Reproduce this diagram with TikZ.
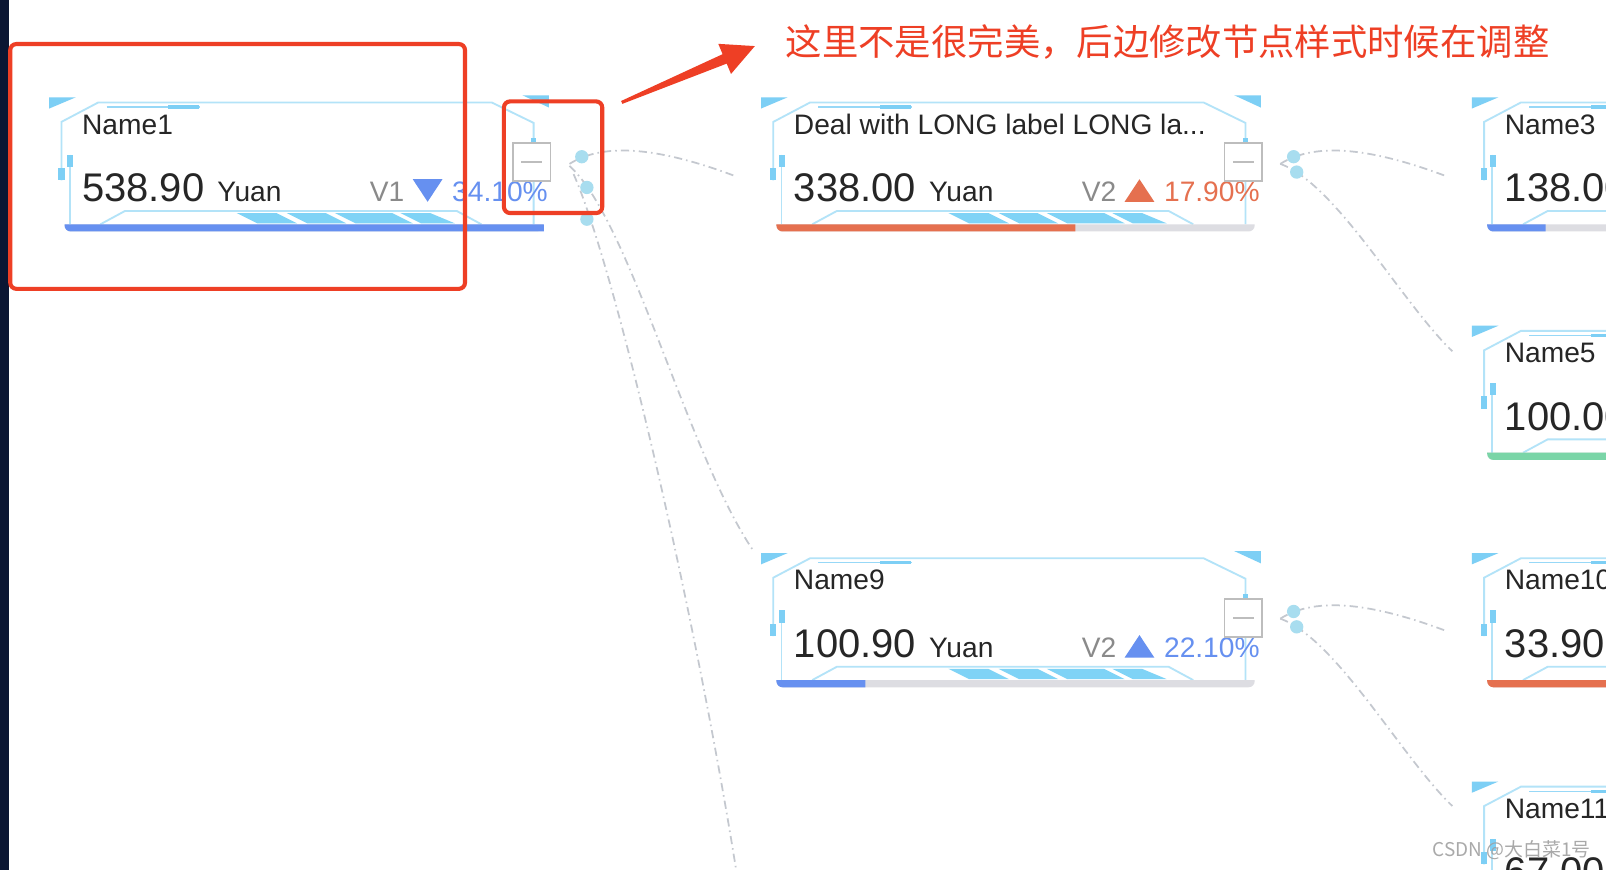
\documentclass[tikz,border=0pt]{standalone}
\usepackage{fontspec}
\setmainfont{Liberation Sans}
\newfontfamily\cjk{Noto Sans CJK SC}
\definecolor{frameblue}{HTML}{B3E3F8}
\definecolor{accentblue}{HTML}{7DCFF5}
\definecolor{stripeblue}{HTML}{7FD3F6}
\definecolor{barblue}{HTML}{6690F0}
\definecolor{barorange}{HTML}{E5704F}
\definecolor{bargray}{HTML}{DDDDE2}
\definecolor{bargreen}{HTML}{7AD5A7}
\definecolor{portblue}{HTML}{A8DDEF}
\definecolor{linkgray}{HTML}{C4C8CF}
\definecolor{annored}{HTML}{EE3F25}
\definecolor{darkstrip}{HTML}{0B1633}
\definecolor{txt}{HTML}{262626}
\definecolor{vgray}{HTML}{8A8A8A}
\definecolor{minusgray}{HTML}{BDBDBD}
\definecolor{wmgray}{HTML}{A0A0A0}
\tikzset{
  frame/.style={draw=frameblue, line width=1.8pt},
  accent/.style={fill=accentblue},
  stripe/.style={fill=stripeblue},
  link/.style={draw=linkgray, line width=1.7pt, dash pattern=on 8pt off 4pt on 1.5pt off 4pt},
  port/.style={circle, fill=portblue, minimum size=13pt, inner sep=0pt},
  minusbox/.style={draw=minusgray, line width=1.8pt, fill=white, minimum width=37pt, minimum height=37pt, inner sep=0pt},
  nametext/.style={anchor=base west, inner sep=0pt, text=txt, font=\fontsize{27.5}{32}\selectfont},
  valtext/.style={anchor=base west, inner sep=0pt, text=txt, font=\fontsize{39}{46}\selectfont},
  unittext/.style={anchor=base west, inner sep=0pt, text=txt, font=\fontsize{27.5}{32}\selectfont},
  vtext/.style={anchor=base east, inner sep=0pt, text=vgray, font=\fontsize{27.5}{32}\selectfont},
  pcttext/.style={anchor=base east, inner sep=0pt, font=\fontsize{27.5}{32}\selectfont},
  redbox/.style={draw=annored, line width=4pt, rounded corners=6pt},
}
% card decoration (relative coordinates)
\newcommand\cardframe{%
  \fill[accent] (0,0) -- (26,0) -- (0,11) -- cycle;
  \fill[accent] (462,-2) -- (488,-2) -- (488,10) -- cycle;
  \draw[frame] (12,81) -- (12,24) -- (48,5) -- (432,5) -- (473,25) -- (473,124);
  \draw[frame] (20,56) -- (20,124);
  \fill[accent] (9,69) rectangle (15,81);
  \fill[accent] (17.5,56) rectangle (23.5,68);
  \draw[accentblue!80, line width=1.2pt] (56,9.5) -- (147,9.5);
  \fill[accent] (116,8) rectangle (146,11);
  \fill[accent] (470.5,40) rectangle (475.5,48);
  \draw[frame] (50,124) -- (74,111) -- (398,111) -- (422,124);
  \fill[stripe] (183,113) -- (222,113) -- (242,123) -- (203,123) -- cycle;
  \fill[stripe] (232,113) -- (270,113) -- (290,123) -- (252,123) -- cycle;
  \fill[stripe] (279,113) -- (335,113) -- (355,123) -- (299,123) -- cycle;
  \fill[stripe] (343,113) -- (372,113) -- (396,123) -- (363,123) -- cycle;
}
\newcommand\cardbase[4]{%
  \begin{scope}[shift={(#1,#2)}]
    \cardframe
    \fill[bargray] (15,124) [rounded corners=6pt]-- (15,131) -- (482,131) [sharp corners]-- (482,124) -- cycle;
    \fill[#3] (15,124) [rounded corners=6pt]-- (15,131) [sharp corners]-- (#4,131) -- (#4,124) -- cycle;
  \end{scope}}
\newcommand\cardtexts[5]{%
  \begin{scope}[shift={(#2,#3)}]
    \node[nametext] (#1name) at (32,36) {#4};
    \node[valtext] (#1val) at (32,102) {#5};
  \end{scope}}
\newcommand\cardstats[8]{%
  \begin{scope}[shift={(#2,#3)}]
    \node[unittext] (#1unit) at (164,102) {Yuan};
    \node[vtext] (#1v) at (347,102) {#4};
    \fill[#6] (355,#7) -- (384,#7) -- (369.5,#8) -- cycle;
    \node[pcttext, text=#6] (#1pct) at (487,102) {#5};
  \end{scope}}
\newcommand\minusbox[3]{%
  \begin{scope}[shift={(#2,#3)}]
    \node[minusbox] (#1minus) at (471,63.5) {};
    \draw[minusgray, line width=1.8pt] ([xshift=-10pt]#1minus.center) -- ([xshift=10pt]#1minus.center);
  \end{scope}}
\begin{document}
\begin{tikzpicture}[x=1pt,y=-1pt]
\useasboundingbox (0,0) rectangle (1568,849);
\clip (0,0) rectangle (1568,849);
\fill[white] (0,0) rectangle (1568,849);
\fill[darkstrip] (0,0) rectangle (9,849);

% link end points
\coordinate (s1) at (556,160);
\coordinate (s1b) at (556,162);
\coordinate (s1c) at (560,170);
\coordinate (e2) at (718,172);
\coordinate (e9) at (735,537);
\coordinate (eoff) at (722,870);
\coordinate (s2) at (1250,160);
\coordinate (e3) at (1412,172);
\coordinate (e5) at (1418,343);
\coordinate (s9) at (1250,604);
\coordinate (e10) at (1412,616);
\coordinate (e11) at (1418,787);

% links
\draw[link] (s1) .. controls (591,138) and (646,145) .. (e2);
\draw[link] (s1b) .. controls (615,215) and (670,440) .. (e9);
\draw[link] (s1c) .. controls (600,260) and (680,600) .. (eoff);
\draw[link] (s2) .. controls (1285,138) and (1340,145) .. (e3);
\draw[link] (s2) .. controls (1305,180) and (1368,295) .. (e5);
\draw[link] (s9) .. controls (1285,582) and (1340,589) .. (e10);
\draw[link] (s9) .. controls (1305,624) and (1368,739) .. (e11);

% cards
\cardbase{48}{95}{barblue}{483}
\cardbase{743}{95}{barorange}{307}
\cardbase{743}{540}{barblue}{102}
\cardbase{1437}{95}{barblue}{72}
\cardbase{1437}{318}{bargreen}{482}
\cardbase{1437}{540}{barorange}{482}
\cardbase{1437}{763}{barblue}{482}

\cardtexts{a}{48}{95}{Name1}{538.90}
\cardstats{a}{48}{95}{V1}{34.10\%}{barblue}{80}{102}
\cardtexts{b}{743}{95}{Deal with LONG label LONG la...}{338.00}
\cardstats{b}{743}{95}{V2}{17.90\%}{barorange}{102}{80}
\cardtexts{c}{743}{540}{Name9}{100.90}
\cardstats{c}{743}{540}{V2}{22.10\%}{barblue}{102}{80}
\cardtexts{d}{1437}{95}{Name3}{138.00}
\cardtexts{e}{1437}{318}{Name5}{100.00}
\cardtexts{f}{1437}{540}{Name10}{33.90}
\cardtexts{g}{1437}{763}{Name11}{67.00}

\minusbox{a}{48}{95}
\minusbox{b}{743}{95}
\minusbox{c}{743}{540}

% ports
\node[port] (p1a) at (568,153) {};
\node[port] (p1b) at (573,183) {};
\node[port] (p1c) at (573,214) {};
\node[port] (p2a) at (1263,153) {};
\node[port] (p2b) at (1266,168) {};
\node[port] (p9a) at (1263,597) {};
\node[port] (p9b) at (1266,612) {};

% annotation
\draw[redbox] (10,43) rectangle (454,282);
\draw[redbox] (492,99) rectangle (588,208);
\fill[annored] (606.4,98.6) -- (705.5,52.9) -- (701.3,42.8) -- (737,45) -- (713.7,72.2) -- (709.5,62.1) -- (607.6,101.4) -- cycle;
\node[text=annored, font=\cjk\fontsize{35.5}{40}\selectfont, inner sep=0pt] (note) at (1140,41) {这里不是很完美，后边修改节点样式时候在调整};

% watermark
\node[text=wmgray, font=\cjk\fontsize{18.5}{22}\selectfont, inner sep=0pt, opacity=0.9] (wm) at (1476,830) {CSDN @大白菜1号};
\end{tikzpicture}
\end{document}
